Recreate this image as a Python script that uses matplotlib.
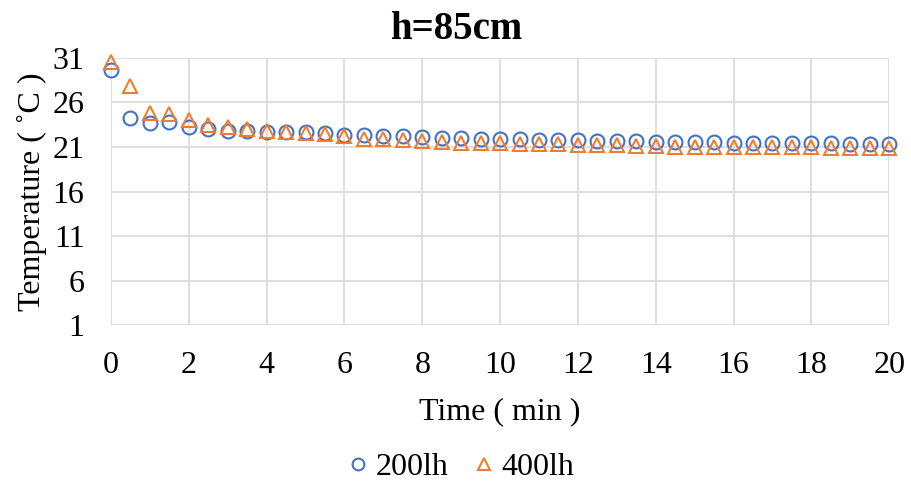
import numpy as np
import matplotlib
matplotlib.use("Agg")
import matplotlib.pyplot as plt

# time (min), 0..20 every 0.5 min
time_min = [0, 0.5, 1, 1.5, 2, 2.5, 3, 3.5, 4, 4.5, 5, 5.5, 6, 6.5, 7, 7.5, 8, 8.5, 9, 9.5, 10,
            10.5, 11, 11.5, 12, 12.5, 13, 13.5, 14, 14.5, 15, 15.5, 16, 16.5, 17, 17.5, 18, 18.5, 19, 19.5, 20]
t_200lh = [29.6, 24.3, 23.7, 23.8, 23.3, 23.0, 22.85, 22.8, 22.7, 22.7, 22.65, 22.6, 22.4, 22.3, 22.2,
           22.2, 22.1, 22.0, 22.0, 21.95, 21.9, 21.85, 21.8, 21.8, 21.75, 21.7, 21.7, 21.65, 21.6, 21.6,
           21.55, 21.55, 21.5, 21.5, 21.45, 21.45, 21.4, 21.4, 21.35, 21.35, 21.3]
t_400lh = [30.6, 27.9, 24.8, 24.7, 24.0, 23.5, 23.3, 23.0, 22.85, 22.7, 22.6, 22.5, 22.2, 21.9, 21.85,
           21.8, 21.7, 21.6, 21.5, 21.45, 21.4, 21.35, 21.3, 21.3, 21.25, 21.2, 21.2, 21.15, 21.1, 21.05,
           21.05, 21.0, 21.0, 21.0, 20.95, 20.95, 20.95, 20.9, 20.9, 20.9, 20.9]
yticks = [1, 6, 11, 16, 21, 26, 31]
xticks = [0, 2, 4, 6, 8, 10, 12, 14, 16, 18, 20]

plt.rcParams['font.family'] = ['Liberation Serif', 'DejaVu Serif']

fig = plt.figure(figsize=(9.12, 4.83), dpi=100)
ax = fig.add_axes([0.1217, 0.327, 0.8533, 0.553])

ax.plot(time_min, t_200lh, linestyle='none', marker='o', markersize=10, markerfacecolor='none',
        markeredgecolor='#4472C4', markeredgewidth=1.5, label='200lh', clip_on=False, zorder=3)
ax.plot(time_min, t_400lh, linestyle='none', marker='^', markersize=10, markerfacecolor='none',
        markeredgecolor='#ED7D31', markeredgewidth=1.5, label='400lh', clip_on=False, zorder=3)

ax.set_xlim(0, 20)
ax.set_ylim(1, 31)
ax.set_xticks(xticks)
ax.set_yticks(yticks)
ax.grid(True, color='#d9d9d9', linewidth=1.2)
ax.set_axisbelow(True)
for s in ax.spines.values():
    s.set_visible(False)
ax.tick_params(length=0, labelsize=23, pad=19)

fig.text(0.5, 0.938, 'h=85cm', fontsize=28, fontweight='bold', ha='center', va='center')
ax.set_xlabel('Time ( min )', fontsize=23, labelpad=12)
ax.set_ylabel('Temperature ( ˚C )', fontsize=23, labelpad=4)

fig.legend(loc='center', bbox_to_anchor=(0.506, 0.033), ncol=2, frameon=False, fontsize=23,
           handlelength=0.6, handletextpad=0.25, columnspacing=0.8, markerscale=0.85)

fig.savefig('out.png', dpi=100)
